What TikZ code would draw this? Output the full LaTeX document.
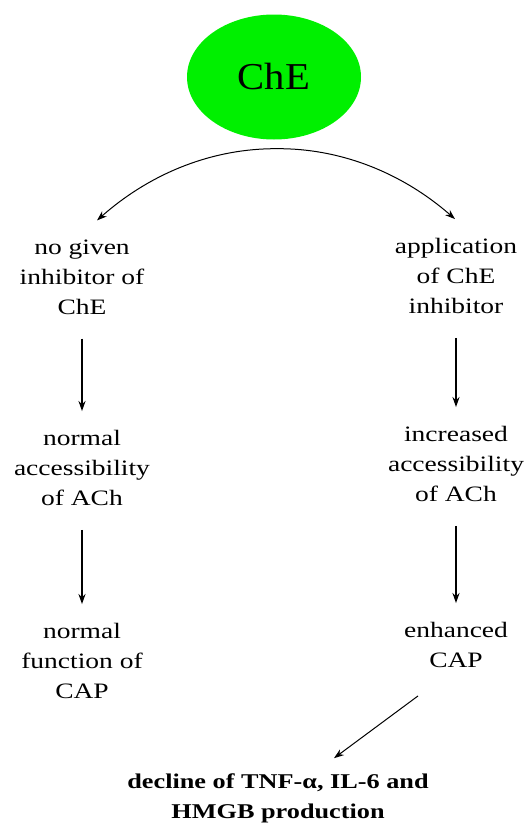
\documentclass[tikz,border=0pt]{standalone}
\usepackage{fontspec}
\setmainfont{Liberation Serif}[FakeStretch=1.25]
\newfontfamily\bigfont{Liberation Serif}[FakeStretch=1.07]
\usepackage{xcolor}
\usetikzlibrary{shapes.geometric, arrows.meta, positioning, calc}
\definecolor{chegreen}{RGB}{0,240,0}
\tikzset{
	enzyme/.style={ellipse, fill=chegreen, minimum width=174pt, minimum height=125pt, inner sep=0pt, font=\bigfont\fontsize{38}{40}\selectfont},
	stage/.style={align=center, inner sep=0pt, font=\fontsize{22}{30}\selectfont},
	result/.style={align=center, inner sep=0pt, font=\bfseries\fontsize{21}{30}\selectfont},
	line/.style={draw, line width=1.8pt, -{Stealth[length=10pt, width=7pt]}, shorten <=24pt, shorten >=19pt},
	thin/.style={draw, line width=1pt, -{Stealth[length=10pt, width=7pt]}}
}

\begin{document}
\begin{tikzpicture}[x=1pt, y=-1pt]
	\useasboundingbox (0,0) rectangle (523,827);
	
	% Enzyme on top
	\node[enzyme] (che) at (274,77) {ChE};
	
	% Left branch
	\node[stage] (noinh) at (82,277) {no given\\inhibitor of\\ChE};
	\node[stage] (normacc) at (82,468) {normal\\accessibility\\of ACh};
	\node[stage] (normcap) at (82,661) {normal\\function of\\CAP};
	
	% Right branch
	\node[stage] (appl) at (456,276) {application\\of ChE\\inhibitor};
	\node[stage] (incacc) at (456,464) {increased\\accessibility\\of ACh};
	\node[stage] (enhcap) at (456,645) {enhanced\\CAP};
	
	% Outcome
	\node[result] (decline) at (278,798) {decline of TNF-α, IL-6 and\\HMGB production};
	
	% Split under the enzyme
	\coordinate (split) at ($(che.south)+(3,9)$);
	\draw[thin] (split) .. controls (214.75,148.25) and (152.5,171.5) .. ($(noinh.north)+(15,-19)$);
	\draw[thin] (split) .. controls (338.75,148.25) and (400.5,171.5) .. ($(appl.north)+(-1,-19)$);
	
	% Chains
	\path[line] (noinh.south) -- (normacc.north);
	\path[line] (normacc.south) -- (normcap.north);
	\path[line] (appl.south) -- (incacc.north);
	\path[line] (incacc.south) -- (enhcap.north);
	
	% Towards the outcome
	\draw[thin] ($(enhcap.south)+(-38,28)$) -- ($(decline.north)+(56,-15)$);
\end{tikzpicture}
\end{document}
